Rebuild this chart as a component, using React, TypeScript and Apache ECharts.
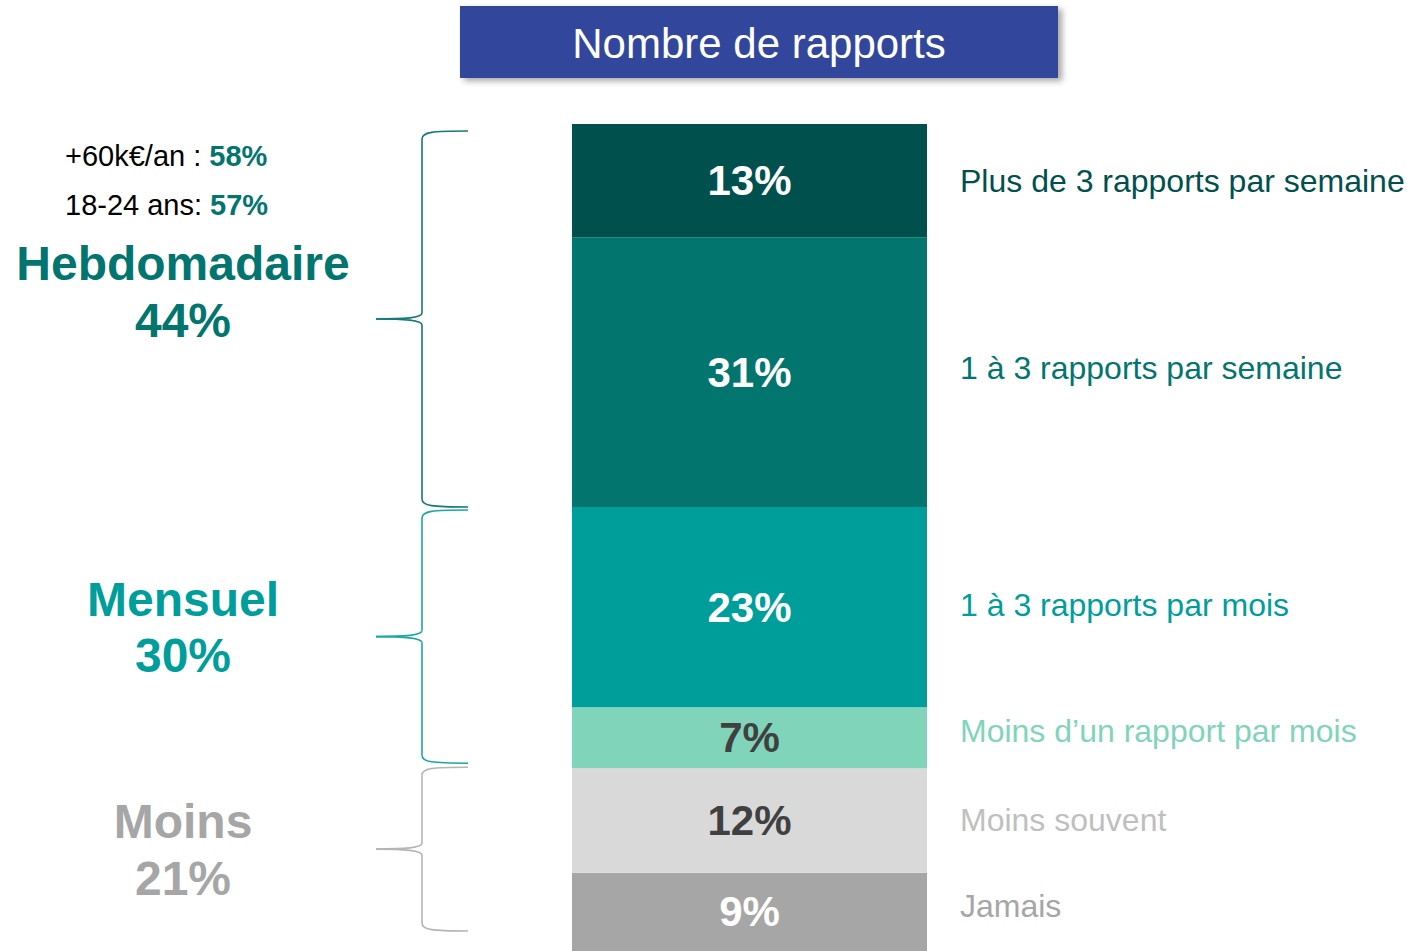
import React, { useEffect, useRef } from "react";
import * as echarts from "echarts";

// ---------- data ----------
const categories = ["Nombre de rapports"];
// bottom-to-top stacking order
const segmentNames = [
  "Jamais",
  "Moins souvent",
  "Moins d’un rapport par mois",
  "1 à 3 rapports par mois",
  "1 à 3 rapports par semaine",
  "Plus de 3 rapports par semaine",
];
const segmentValues = [9, 12, 7, 23, 31, 13];
const groupNames = ["Moins", "Mensuel", "Hebdomadaire"];
const groupValues = [21, 30, 44];
const groupSegments = [[0, 1], [2, 3], [4, 5]];
const noteLabels = ["+60k€/an : ", "18-24 ans: "];
const noteValues = [58, 57];
const title = "Nombre de rapports";

// ---------- styles ----------
const FONT = "Arial, 'Liberation Sans', sans-serif";
const segColors = ["#A6A6A6", "#D9D9D9", "#80D4BA", "#009E9B", "#03756F", "#00504E"];
const segLabelColors = ["#FFFFFF", "#404040", "#404040", "#FFFFFF", "#FFFFFF", "#FFFFFF"];
const rightLabelColors = ["#A6A6A6", "#BFBFBF", "#80D4BA", "#009E9B", "#03756F", "#00504E"];
const rightLabelNudge = [-6, 0, -7, -2, -4, 0];
const groupColors = ["#A6A6A6", "#009E9B", "#03756F"];
const braceColors = ["#B5B5B5", "#1AA7A1", "#137A76"];
const braceInset = [[-1, 20], [3, 5], [7, 0]]; // [top, bottom] pixel insets
const groupNameOffset = [-28, -37, -56];
const groupPctOffset = [29, 19, 1];

export default function App() {
  const ref = useRef<HTMLDivElement>(null);

  useEffect(() => {
    if (!ref.current) return;
    const chart = echarts.init(ref.current, undefined, { renderer: "svg" });
    const total = segmentValues.reduce((a, b) => a + b, 0);

    chart.setOption({
      animation: false,
      backgroundColor: "#FFFFFF",
      grid: { left: 572, width: 355, top: 124, height: 830 },
      xAxis: { type: "category", data: categories, show: false },
      yAxis: { type: "value", min: 0, max: total, show: false },
      series: segmentValues.map((v, i) => ({
        type: "bar",
        name: segmentNames[i],
        stack: "total",
        barWidth: "100%",
        data: [v],
        itemStyle: { color: segColors[i] },
        label: {
          show: true,
          position: "inside",
          formatter: "{c}%",
          color: segLabelColors[i],
          fontFamily: FONT,
          fontWeight: "bold",
          fontSize: 42,
        },
      })),
    });

    const py = (v: number) => chart.convertToPixel({ yAxisIndex: 0 }, v) as number;
    const cum: number[] = [0];
    segmentValues.forEach((v, i) => cum.push(cum[i] + v));

    const graphics: any[] = [];

    // title box
    graphics.push({
      type: "rect",
      shape: { x: 460, y: 6, width: 598, height: 72 },
      style: {
        fill: "#31479B",
        shadowBlur: 6,
        shadowOffsetX: 4,
        shadowOffsetY: 3,
        shadowColor: "rgba(0,0,0,0.35)",
      },
    });
    graphics.push({
      type: "text",
      x: 759,
      y: 43,
      style: {
        text: title,
        fill: "#FFFFFF",
        font: `42px ${FONT}`,
        align: "center",
        verticalAlign: "middle",
      },
    });

    // right labels
    segmentNames.forEach((n, i) => {
      const yc = (py(cum[i]) + py(cum[i + 1])) / 2 + rightLabelNudge[i];
      graphics.push({
        type: "text",
        x: 960,
        y: yc,
        style: {
          text: n,
          fill: rightLabelColors[i],
          font: `32px ${FONT}`,
          align: "left",
          verticalAlign: "middle",
        },
      });
    });

    // braces + group labels
    groupSegments.forEach((seg, g) => {
      const top = py(cum[seg[1] + 1]) + braceInset[g][0];
      const bot = py(cum[seg[0]]) - braceInset[g][1];
      const mid = (top + bot) / 2;
      const xe = 468, xs = 422, xt = 376;
      const c = braceColors[g];
      const st = { stroke: c, lineWidth: 1.6, fill: "none" };
      graphics.push(
        { type: "bezierCurve", shape: { x1: xe, y1: top, cpx1: 432, cpy1: top, cpx2: xs, cpy2: top + 1, x2: xs, y2: top + 8 }, style: st },
        { type: "line", shape: { x1: xs, y1: top + 8, x2: xs, y2: mid - 6 }, style: st },
        { type: "bezierCurve", shape: { x1: xs, y1: mid - 6, cpx1: xs, cpy1: mid - 1, cpx2: 405, cpy2: mid, x2: xt, y2: mid }, style: st },
        { type: "bezierCurve", shape: { x1: xt, y1: mid, cpx1: 405, cpy1: mid, cpx2: xs, cpy2: mid + 1, x2: xs, y2: mid + 6 }, style: st },
        { type: "line", shape: { x1: xs, y1: mid + 6, x2: xs, y2: bot - 8 }, style: st },
        { type: "bezierCurve", shape: { x1: xs, y1: bot - 8, cpx1: xs, cpy1: bot - 1, cpx2: 432, cpy2: bot, x2: xe, y2: bot }, style: st }
      );
      graphics.push({
        type: "text",
        x: 183,
        y: mid + groupNameOffset[g],
        style: {
          text: groupNames[g],
          fill: groupColors[g],
          font: `bold 48px ${FONT}`,
          align: "center",
          verticalAlign: "middle",
        },
      });
      graphics.push({
        type: "text",
        x: 183,
        y: mid + groupPctOffset[g],
        style: {
          text: `${groupValues[g]}%`,
          fill: groupColors[g],
          font: `bold 48px ${FONT}`,
          align: "center",
          verticalAlign: "middle",
        },
      });
    });

    // notes
    noteLabels.forEach((l, i) => {
      graphics.push({
        type: "text",
        x: 65,
        y: 156 + i * 49,
        style: {
          text: `{a|${l}}{b|${noteValues[i]}%}`,
          align: "left",
          verticalAlign: "middle",
          rich: {
            a: { fontFamily: FONT, fontSize: 29, fill: "#000000", color: "#000000" },
            b: { fontFamily: FONT, fontSize: 29, fontWeight: "bold", color: "#03756F", fill: "#03756F" },
          },
        },
      });
    });

    chart.setOption({ graphic: graphics });

    return () => chart.dispose();
  }, []);

  return (
    <div
      ref={ref}
      style={{ position: "absolute", left: 0, top: 0, width: 1407, height: 951 }}
    />
  );
}
